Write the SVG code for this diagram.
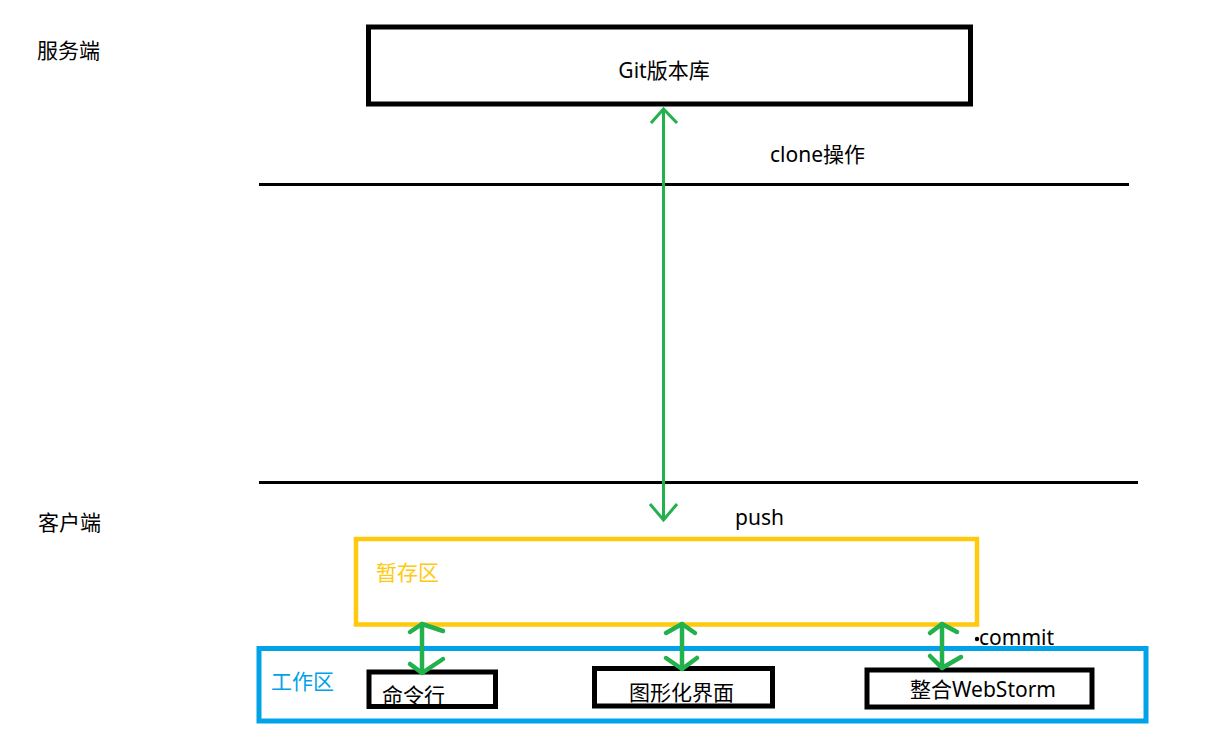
<svg xmlns="http://www.w3.org/2000/svg" width="1215" height="738" viewBox="0 0 1215 738">
<style>
text{font-family:"Noto Sans","Noto Sans CJK SC",sans-serif;font-size:21px;fill:#000}
.box{fill:none;stroke:#000;stroke-width:5}
.sep{stroke:#000;stroke-width:3}
.thin{fill:none;stroke:#22B14C;stroke-width:3}
.thick{fill:none;stroke:#22B14C;stroke-width:4.5;stroke-linecap:round;stroke-linejoin:round}
</style>
<rect width="1215" height="738" fill="#fff"/>
<text x="37" y="58">服务端</text>
<text x="38" y="530">客户端</text>
<g id="separators">
<line class="sep" x1="259" y1="184.5" x2="1129" y2="184.5"/>
<line class="sep" x1="259" y1="482.5" x2="1138" y2="482.5"/>
</g>
<g id="git">
<rect class="box" x="368.5" y="27" width="602" height="77" stroke-width="4.5"/>
<text x="664" y="78" text-anchor="middle">Git版本库</text>
</g>
<g id="stage">
<rect x="356" y="539" width="621" height="85.5" fill="none" stroke="#FFC90E" stroke-width="4.5"/>
<text x="376" y="580" style="fill:#FFC90E">暂存区</text>
</g>
<g id="workspace">
<rect x="259" y="648.5" width="887" height="72.5" fill="none" stroke="#00A2E8" stroke-width="5"/>
<text x="271" y="689" style="fill:#00A2E8">工作区</text>
</g>
<g id="cmd">
<rect class="box" x="369" y="672" width="126.5" height="34.5"/>
<text x="382" y="703">命令行</text>
</g>
<g id="gui">
<rect class="box" x="594.5" y="668.5" width="178" height="37.5"/>
<text x="629" y="700">图形化界面</text>
</g>
<g id="webstorm">
<rect class="box" x="867" y="670" width="225" height="37"/>
<text x="910" y="697">整合WebStorm</text>
</g>
<g id="connectors">
<line class="thin" x1="663.5" y1="109" x2="663.5" y2="520"/>
<polyline class="thin" points="651,123 663.5,109 677,123"/>
<polyline class="thin" points="650,504 663.5,520 677,504"/>
<line class="thick" x1="422" y1="624" x2="422" y2="673"/>
<polyline class="thick" points="410,632 422,624 443,631"/>
<polyline class="thick" points="410,664 422,673 443,659"/>
<line class="thick" x1="682" y1="624" x2="682" y2="669"/>
<polyline class="thick" points="666,633 682,624 695,633"/>
<polyline class="thick" points="666,658 682,669 697,658"/>
<line class="thick" x1="942" y1="624" x2="942" y2="668"/>
<polyline class="thick" points="930,633 942,624 957,632"/>
<polyline class="thick" points="930,656 942,668 961,657"/>
</g>
<text x="770" y="162">clone操作</text>
<text x="735" y="525">push</text>
<circle cx="977" cy="639" r="2.2" fill="#000"/>
<text x="979" y="645">commit</text>
</svg>
